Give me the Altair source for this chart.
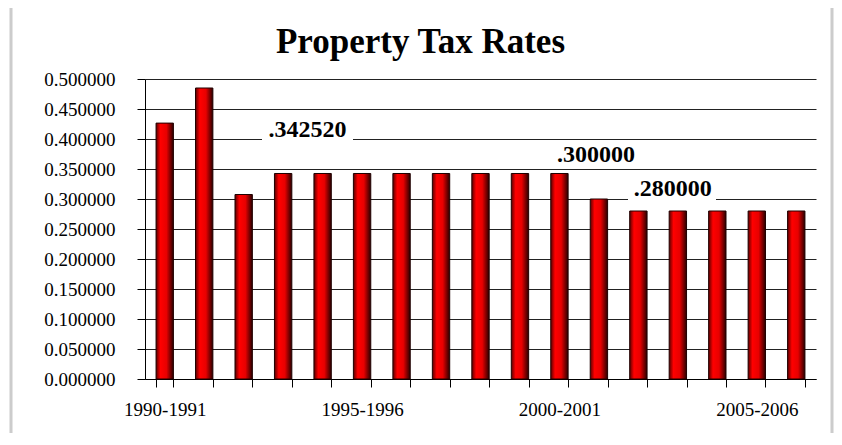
import json
import altair as alt
import pandas as pd

# ---- data ----
categories = [
    "1990-1991", "1991-1992", "1992-1993", "1993-1994", "1994-1995",
    "1995-1996", "1996-1997", "1997-1998", "1998-1999", "1999-2000",
    "2000-2001", "2001-2002", "2002-2003", "2003-2004", "2004-2005",
    "2005-2006", "2006-2007",
]
rates = [
    0.4265, 0.4850, 0.3075, 0.34252, 0.34252,
    0.34252, 0.34252, 0.34252, 0.34252, 0.34252,
    0.34252, 0.30000, 0.28000, 0.28000, 0.28000,
    0.28000, 0.28000,
]
y_ticks = [0.0, 0.05, 0.10, 0.15, 0.20, 0.25, 0.30, 0.35, 0.40, 0.45, 0.50]
x_labels_shown = ["1990-1991", "1995-1996", "2000-2001", "2005-2006"]

ann_text = [".342520", ".300000", ".280000"]
ann_year = ["1994-1995", "2001-2002", "2003-2004"]
ann_rate = [0.34252, 0.30000, 0.28000]

FONT = "Liberation Serif"

df = pd.DataFrame({"year": categories, "rate": rates})

x_enc = alt.X(
    "year:N",
    sort=categories,
    scale=alt.Scale(domain=categories, paddingInner=0.56, paddingOuter=0.28),
    axis=alt.Axis(
        title=None,
        tickBand="extent",
        tickSize=8,
        tickColor="black",
        domainColor="black",
        labelFont=FONT,
        labelFontSize=19,
        labelColor="black",
        labelPadding=13,
        labelAngle=0,
        labelOverlap=False,
        labelExpr="indexof(" + json.dumps(x_labels_shown) + ", datum.value) >= 0 ? datum.value : ''",
        grid=False,
    ),
)
y_enc = alt.Y(
    "rate:Q",
    scale=alt.Scale(domain=[0, 0.5], nice=False, zero=True),
    axis=alt.Axis(
        title=None,
        values=y_ticks,
        format=".6f",
        grid=True,
        gridColor="#222222",
        gridWidth=1,
        tickSize=8,
        tickColor="black",
        domainColor="black",
        labelFont=FONT,
        labelFontSize=19,
        labelColor="black",
        labelPadding=22,
    ),
)

one = pd.DataFrame({"k": [0]})

# white masks that interrupt grid lines behind two annotations
mask1 = alt.Chart(one).mark_rect(color="white").encode(
    x=alt.value(117), x2=alt.value(208), y=alt.value(55), y2=alt.value(64)
)
mask2 = alt.Chart(one).mark_rect(color="white").encode(
    x=alt.value(483), x2=alt.value(571), y=alt.value(116), y2=alt.value(124)
)

grad = alt.Gradient(
    gradient="linear",
    stops=[
        alt.GradientStop(color="#5a0000", offset=0),
        alt.GradientStop(color="#ff0000", offset=0.25),
        alt.GradientStop(color="#e80000", offset=0.6),
        alt.GradientStop(color="#2a0000", offset=1),
    ],
    x1=0, x2=1, y1=0, y2=0,
)

bars = alt.Chart(df).mark_bar(color=grad, stroke="#200000", strokeWidth=1).encode(
    x=x_enc, y=y_enc
)

offsets = [(-15, -43), (-3, -44), (-5, -22)]
texts = []
for t, yr, r, (dx, dy) in zip(ann_text, ann_year, ann_rate, offsets):
    d = pd.DataFrame({"year": [yr], "rate": [r], "label": [t]})
    texts.append(
        alt.Chart(d).mark_text(
            font=FONT, fontSize=24, fontWeight="bold", color="black",
            align="center", baseline="middle", dx=dx, dy=dy,
        ).encode(x=x_enc, y=y_enc, text="label:N")
    )

border = alt.Chart(one).mark_rect(
    fillOpacity=0, stroke="#cccccc", strokeWidth=3
).encode(x=alt.value(-134), x2=alt.value(687), y=alt.value(-75), y2=alt.value(420))

chart = alt.layer(mask1, mask2, bars, *texts, border).properties(
    width=671,
    height=300,
    autosize="none",
    padding={"left": 137, "top": 71, "right": 18, "bottom": 54},
    background="white",
    title=alt.TitleParams(
        "Property Tax Rates",
        font=FONT,
        fontSize=35,
        fontWeight="bold",
        color="black",
        anchor="middle",
        frame="group",
        dx=-60,
        dy=63,
        offset=6,
    ),
).configure_view(stroke=None)

chart.save("out.html", embed_options={"renderer": "svg", "actions": False})
